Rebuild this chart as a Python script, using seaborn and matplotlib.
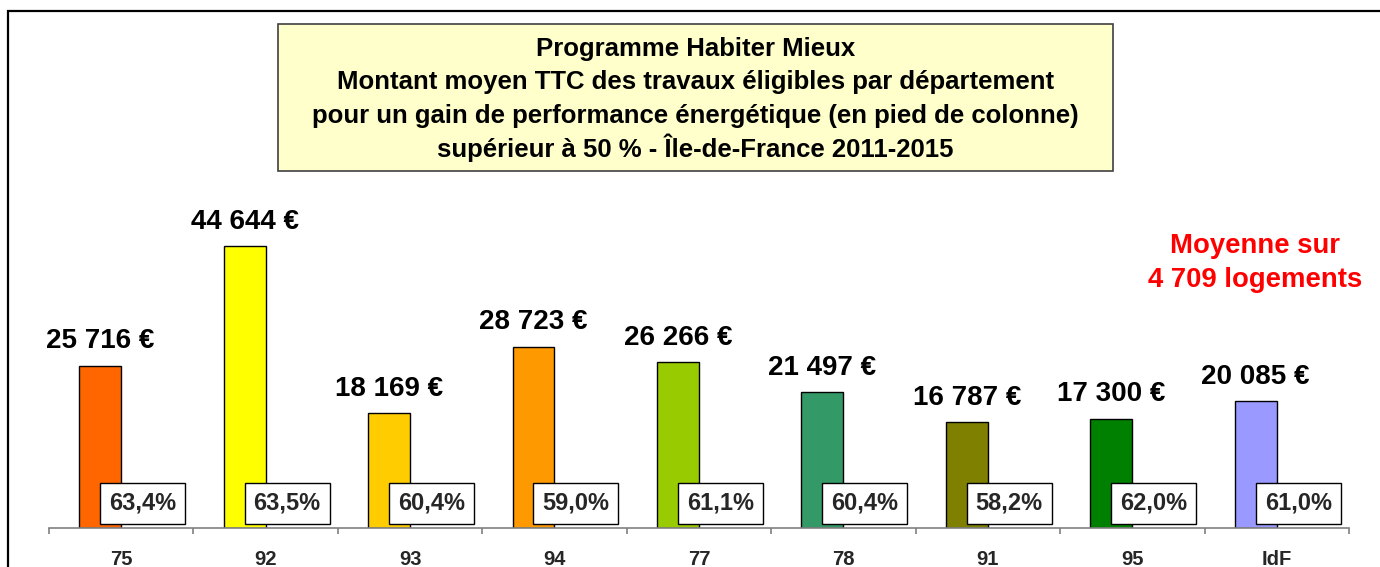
import matplotlib
matplotlib.use("Agg")
import matplotlib.pyplot as plt
import seaborn as sns
import pandas as pd
from matplotlib.patches import Rectangle

departements = ["75", "92", "93", "94", "77", "78", "91", "95", "IdF"]
montants = [25716, 44644, 18169, 28723, 26266, 21497, 16787, 17300, 20085]
gains = [63.4, 63.5, 60.4, 59.0, 61.1, 60.4, 58.2, 62.0, 61.0]
couleurs = ["#FF6600", "#FFFF00", "#FFCC00", "#FF9900", "#99CC00",
            "#339966", "#808000", "#008000", "#9999FF"]
titre = ["Programme Habiter Mieux",
         "Montant moyen TTC des travaux éligibles par département",
         "pour un gain de performance énergétique (en pied de colonne)",
         "supérieur à 50 % - Île-de-France 2011-2015"]
note = ["Moyenne sur", "4 709 logements"]

sns.set_theme(style="white")
plt.rcParams["font.family"] = ["Liberation Sans", "DejaVu Sans"]
plt.rcParams["font.weight"] = "bold"

W, H = 1380, 567
fig = plt.figure(figsize=(W / 100, H / 100), dpi=100)
fig.patch.set_facecolor("white")

# outer frame (extends beyond right/bottom edges)
fig.patches.append(Rectangle((8 / W, -0.2), 1.3, 1 - 11 / H + 0.2,
                             transform=fig.transFigure, fill=False,
                             edgecolor="black", linewidth=1.6))

ax_left, ax_right = 49 / W, 1349 / W
ax_bottom = 1 - 528 / H
ax_top = 1 - 149 / H
ax = fig.add_axes([ax_left, ax_bottom, ax_right - ax_left, ax_top - ax_bottom])
ax.set_facecolor("none")

df = pd.DataFrame({"dep": departements, "montant": montants})
sns.barplot(data=df, x="dep", y="montant", hue="dep", palette=couleurs,
            width=0.29, edgecolor="black", linewidth=1.0, saturation=1,
            legend=False, ax=ax)

off = 0.146
for p in ax.patches:
    p.set_x(p.get_x() - off)

for i, (v, g) in enumerate(zip(montants, gains)):
    lab = f"{v:,}".replace(",", " ") + " €"
    ax.annotate(lab, xy=(i - off, v), xytext=(0, 12.5), textcoords="offset points",
                ha="center", va="baseline", fontsize=20, fontweight="bold",
                color="black")
    ax.text(i + 0.148, 3950, f"{g:.1f}".replace(".", ",") + "%",
            ha="center", va="center", fontsize=17, fontweight="bold",
            bbox=dict(boxstyle="square,pad=0.38", fc="white", ec="black", lw=1))

ax.set_xlim(-0.5, len(departements) - 0.5)
ax.set_ylim(0, 60000)
ax.set_xlabel("")
ax.set_ylabel("")
ax.set_yticks([])
for s in ["top", "left", "right"]:
    ax.spines[s].set_visible(False)
ax.spines["bottom"].set_color("#808080")
ax.spines["bottom"].set_linewidth(1.2)
ax.set_xticks(range(len(departements)))
ax.set_xticklabels(departements, fontsize=14.5, fontweight="bold")
ax.set_xticks([i - 0.5 for i in range(len(departements) + 1)], minor=True)
ax.tick_params(axis="x", which="major", length=0, pad=15.5)
ax.tick_params(axis="x", which="minor", length=4, width=1.2, color="#808080",
               direction="out", bottom=True)

# title box
bx0, bx1, by0, by1 = 278, 1113, 24, 171
fig.patches.append(Rectangle((bx0 / W, 1 - by1 / H), (bx1 - bx0) / W, (by1 - by0) / H,
                             transform=fig.transFigure, facecolor="#FFFFCC",
                             edgecolor="#404040", linewidth=1.2))
baselines = [56, 89.5, 123, 156.5]
for t, yb in zip(titre, baselines):
    fig.text((bx0 + bx1) / 2 / W, 1 - yb / H, t, ha="center", va="baseline",
             fontsize=18.5, fontweight="bold", color="black")

for t, yb in zip(note, [253, 287]):
    fig.text(1255 / W, 1 - yb / H, t, ha="center", va="baseline",
             fontsize=19.8, fontweight="bold", color="#FF0000")

fig.savefig("out.png", dpi=100)
